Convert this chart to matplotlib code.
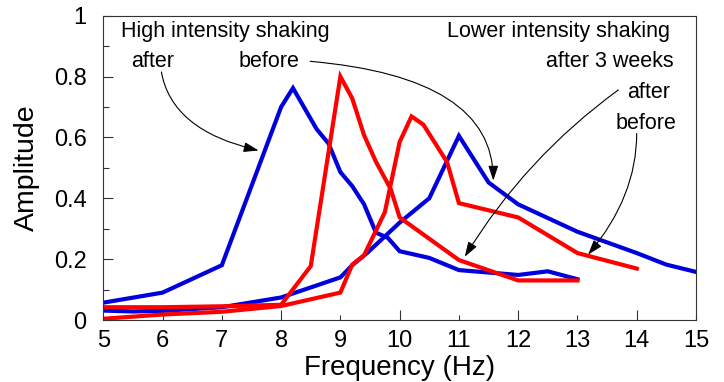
import matplotlib
matplotlib.use("Agg")
import matplotlib.pyplot as plt
from matplotlib.ticker import MultipleLocator, FormatStrFormatter

plt.rcParams['font.family'] = ['Liberation Sans', 'DejaVu Sans']

# High intensity shaking - after (blue, peak ~8.2 Hz)
hi_after_f = [5, 6, 7, 8, 8.2, 8.6, 8.8, 9, 9.2, 9.4, 9.6, 9.8, 10, 10.5, 11, 12, 12.5, 13]
hi_after_a = [0.057, 0.09, 0.18, 0.70, 0.762, 0.627, 0.58, 0.486, 0.44, 0.38, 0.287, 0.27,
              0.226, 0.204, 0.164, 0.148, 0.16, 0.134]

# High intensity shaking - before (blue, peak ~11 Hz)
hi_before_f = [5, 5.5, 6, 7, 8, 8.5, 9, 9.2, 9.45, 10, 10.5, 11, 11.5, 12, 13, 14, 14.5, 15]
hi_before_a = [0.031, 0.028, 0.030, 0.042, 0.074, 0.107, 0.14, 0.18, 0.22, 0.32, 0.40, 0.605,
               0.452, 0.38, 0.29, 0.22, 0.182, 0.158]

# Lower intensity shaking - after 3 weeks, after (red, peak ~9 Hz)
lo_after_f = [5, 6, 7, 8, 8.5, 9, 9.2, 9.4, 9.6, 9.85, 10, 11, 12, 13]
lo_after_a = [0.042, 0.042, 0.045, 0.05, 0.177, 0.80, 0.728, 0.607, 0.52, 0.43, 0.337,
              0.197, 0.13, 0.13]

# Lower intensity shaking - after 3 weeks, before (red, peak ~10.2 Hz)
lo_before_f = [5, 6, 7, 8, 9, 9.2, 9.4, 9.75, 10, 10.2, 10.4, 10.8, 11, 12, 13, 14]
lo_before_a = [0.004, 0.018, 0.027, 0.046, 0.09, 0.182, 0.213, 0.354, 0.585, 0.669, 0.642,
               0.519, 0.384, 0.337, 0.22, 0.169]

x_ticks = [5, 6, 7, 8, 9, 10, 11, 12, 13, 14, 15]
y_ticks = [0, 0.2, 0.4, 0.6, 0.8, 1.0]
y_tick_labels = ['0', '0.2', '0.4', '0.6', '0.8', '1']

BLUE = '#0000dd'
RED = '#ff0000'

fig = plt.figure(figsize=(7.24, 3.82), dpi=100)
ax = fig.add_axes([0.1427, 0.1623, 0.9613 - 0.1427, 0.959 - 0.1623])

lw = 3.0
ax.plot(hi_before_f, hi_before_a, color=BLUE, lw=lw, solid_joinstyle='miter')
ax.plot(hi_after_f, hi_after_a, color=BLUE, lw=lw, solid_joinstyle='miter')
ax.plot(lo_after_f, lo_after_a, color=RED, lw=lw, solid_joinstyle='miter')
ax.plot(lo_before_f, lo_before_a, color=RED, lw=lw, solid_joinstyle='miter')

ax.set_xlim(5, 15)
ax.set_ylim(0, 1)

# x: long ticks at even, short at odd, labels every integer
ax.xaxis.set_major_locator(MultipleLocator(2))
ax.xaxis.set_minor_locator(MultipleLocator(1))
ax.xaxis.set_major_formatter(FormatStrFormatter('%d'))
ax.xaxis.set_minor_formatter(FormatStrFormatter('%d'))
ax.yaxis.set_major_locator(MultipleLocator(0.2))
ax.yaxis.set_minor_locator(MultipleLocator(0.1))
ax.set_yticks(y_ticks)
ax.set_yticklabels(y_tick_labels)

ax.tick_params(axis='both', which='both', direction='in', color='#333333', width=0.8,
               labelsize=17, top=False, right=False)
ax.tick_params(axis='x', which='major', length=7, pad=7)
ax.tick_params(axis='x', which='minor', length=3.8, pad=7)
ax.tick_params(axis='y', which='major', length=7, pad=12)
ax.tick_params(axis='y', which='minor', length=4.3)
ax.tick_params(axis='y', which='minor', labelleft=False)

for s in ax.spines.values():
    s.set_linewidth(0.8)
    s.set_color('#333333')

ax.set_xlabel('Frequency (Hz)', fontsize=20, labelpad=2)
ax.set_ylabel('Amplitude', fontsize=20.5, labelpad=10)

fs = 15.5
ax.text(5.30, 0.930, 'High intensity shaking', fontsize=fs, ha='left', va='baseline')
ax.text(5.83, 0.830, 'after', fontsize=fs, ha='center', va='baseline')
ax.text(7.79, 0.830, 'before', fontsize=fs, ha='center', va='baseline')
ax.text(14.57, 0.929, 'Lower intensity shaking', fontsize=fs, ha='right', va='baseline')
ax.text(14.63, 0.830, 'after 3 weeks', fontsize=fs, ha='right', va='baseline')
ax.text(14.57, 0.728, 'after', fontsize=fs, ha='right', va='baseline')
ax.text(14.67, 0.629, 'before', fontsize=fs, ha='right', va='baseline')

astyle = '-|>,head_length=0.9,head_width=0.3'
common = dict(arrowstyle=astyle, color='black', lw=0.8, shrinkA=0, shrinkB=0,
              mutation_scale=10)

ax.annotate('', xy=(7.62, 0.557), xytext=(5.98, 0.815),
            arrowprops=dict(connectionstyle='angle3,angleA=-80,angleB=-13', **common))
ax.annotate('', xy=(11.58, 0.458), xytext=(8.49, 0.850),
            arrowprops=dict(connectionstyle='angle3,angleA=-5,angleB=90', **common))
ax.annotate('', xy=(11.10, 0.208), xytext=(13.69, 0.756),
            arrowprops=dict(connectionstyle='arc3,rad=0.1', **common))
ax.annotate('', xy=(13.18, 0.215), xytext=(14.0, 0.613),
            arrowprops=dict(connectionstyle='angle3,angleA=90,angleB=50', **common))

fig.savefig('out.png', dpi=100)
